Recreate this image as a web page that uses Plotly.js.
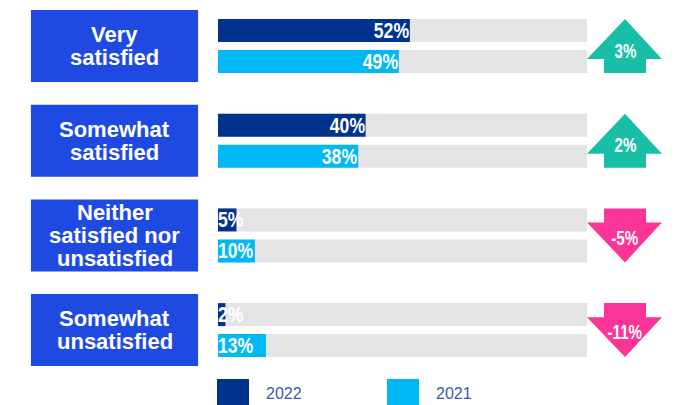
<!DOCTYPE html>
<html>
<head>
<meta charset="utf-8">
<script src="https://cdn.plot.ly/plotly-3.0.1.min.js"></script>
<style>
  html, body { margin: 0; padding: 0; background: #ffffff; }
  #chart { width: 678px; height: 405px; }
</style>
</head>
<body>
<div id="chart"></div>
<script>
// ---- data ----
const categories = ["Very<br>satisfied", "Somewhat<br>satisfied", "Neither<br>satisfied nor<br>unsatisfied", "Somewhat<br>unsatisfied"];
const values2022 = [52, 40, 5, 2];
const values2021 = [49, 38, 10, 13];
const changes = [3, 2, -5, -11];
const seriesNames = ["2022", "2021"];
const fullScale = [100, 100, 100, 100];

// ---- styles ----
const C_DARK = "#00338D";
const C_LIGHT = "#00B8F5";
const C_TRACK = "#E4E4E4";
const C_BOX = "#1F4AE2";
const C_UP = "#18BFA6";
const C_DOWN = "#FB3497";
const SANS = "'Liberation Sans', Arial, Helvetica, sans-serif";

const idx = categories.map((_, i) => i);
const BAR_W = 0.243;
const OFF_A = -0.285;   // 2022 bar offset from group centre
const OFF_B = 0.042;    // 2021 bar offset from group centre

function barTrace(x, color, offset) {
  return {
    type: "bar", orientation: "h", x: x, y: idx,
    width: BAR_W, offset: offset,
    marker: { color: color, line: { width: 0 } },
    hoverinfo: "skip", showlegend: false
  };
}

const traces = [
  barTrace(fullScale, C_TRACK, OFF_A),
  barTrace(fullScale, C_TRACK, OFF_B),
  barTrace(values2022, C_DARK, OFF_A),
  barTrace(values2021, C_LIGHT, OFF_B)
];

const shapes = [];
const annotations = [];
const narrow = [];   // annotations to squeeze horizontally {index, scale, anchor}

// value labels
function valueLabel(v, i, off) {
  const big = v >= 20;
  narrow.push({ index: annotations.length, scale: 0.8, anchor: big ? "right" : "left" });
  annotations.push({
    x: big ? v : 0, y: i + off + BAR_W / 2, xref: "x", yref: "y",
    text: v + "%", showarrow: false,
    xanchor: big ? "right" : "left", yanchor: "middle",
    xshift: big ? 1 : -2,
    font: { family: SANS, size: 22, color: "#ffffff", weight: "bold" }
  });
}
values2022.forEach((v, i) => valueLabel(v, i, OFF_A));
values2021.forEach((v, i) => valueLabel(v, i, OFF_B));

// category boxes and labels
categories.forEach((cat, i) => {
  shapes.push({
    type: "rect", xref: "x", yref: "y",
    x0: -50.7, x1: -5.4, y0: i - 0.38, y1: i + 0.38,
    fillcolor: C_BOX, line: { width: 0 }, layer: "below"
  });
  const lines = cat.split("<br>");
  lines.forEach((ln, k) => {
    annotations.push({
      x: -28.05, y: i + (k - (lines.length - 1) / 2) * 0.247, xref: "x", yref: "y",
      text: ln, showarrow: false, xanchor: "center", yanchor: "middle",
      font: { family: SANS, size: 22, color: "#ffffff", weight: "bold" }
    });
  });
});

// change arrows
const AX0 = 100, AX1 = 120.3, SX0 = 104.6, SX1 = 116.0, AXC = 110.3;
const HALF = 0.285, SHAFT = 0.148;
changes.forEach((c, i) => {
  const top = i - HALF, bot = i + HALF;
  let path;
  if (c >= 0) {
    const hb = bot - SHAFT;
    path = `M ${AXC},${top} L ${AX1},${hb} L ${SX1},${hb} L ${SX1},${bot} L ${SX0},${bot} L ${SX0},${hb} L ${AX0},${hb} Z`;
  } else {
    const ht = top + SHAFT;
    path = `M ${SX0},${top} L ${SX1},${top} L ${SX1},${ht} L ${AX1},${ht} L ${AXC},${bot} L ${AX0},${ht} L ${SX0},${ht} Z`;
  }
  shapes.push({
    type: "path", xref: "x", yref: "y", path: path,
    fillcolor: c >= 0 ? C_UP : C_DOWN, line: { width: 0 }
  });
  narrow.push({ index: annotations.length, scale: 0.76, anchor: "center" });
  annotations.push({
    x: AXC, y: i + (c >= 0 ? 0.05 : 0.025), xref: "x", yref: "y",
    text: c + "%", showarrow: false, xanchor: "center", yanchor: "middle",
    font: { family: SANS, size: 20, color: "#ffffff", weight: "bold" }
  });
});

// legend (custom)
const legendColors = [C_DARK, C_LIGHT];
const legendX = [217, 387];
seriesNames.forEach((name, k) => {
  shapes.push({
    type: "rect", xref: "paper", yref: "paper",
    x0: legendX[k] / 678, x1: (legendX[k] + 32) / 678,
    y0: 1 - 411 / 405, y1: 1 - 379 / 405,
    fillcolor: legendColors[k], line: { width: 0 }
  });
  annotations.push({
    x: (legendX[k] + 47) / 678, y: 1 - 393 / 405, xref: "paper", yref: "paper",
    text: name, showarrow: false, xanchor: "left", yanchor: "middle",
    font: { family: SANS, size: 16, color: "#3A5AA6" }
  });
});

const layout = {
  width: 678, height: 405,
  margin: { l: 0, r: 0, t: 0, b: 0, pad: 0 },
  paper_bgcolor: "#ffffff", plot_bgcolor: "#ffffff",
  barmode: "overlay",
  showlegend: false,
  xaxis: { range: [-59.08, 124.66], visible: false, fixedrange: true },
  yaxis: { range: [3.791, -0.486], visible: false, fixedrange: true },
  shapes: shapes,
  annotations: annotations
};

Plotly.newPlot("chart", traces, layout, { displayModeBar: false, staticPlot: true }).then(() => {
  narrow.forEach(n => {
    const el = document.querySelector(`#chart .annotation[data-index="${n.index}"] .annotation-text`);
    if (!el) return;
    const bb = el.getBBox();
    const ax = n.anchor === "right" ? bb.x + bb.width : n.anchor === "left" ? bb.x : bb.x + bb.width / 2;
    el.setAttribute("transform", `translate(${ax},0) scale(${n.scale},1) translate(${-ax},0)`);
  });
});
</script>
</body>
</html>
